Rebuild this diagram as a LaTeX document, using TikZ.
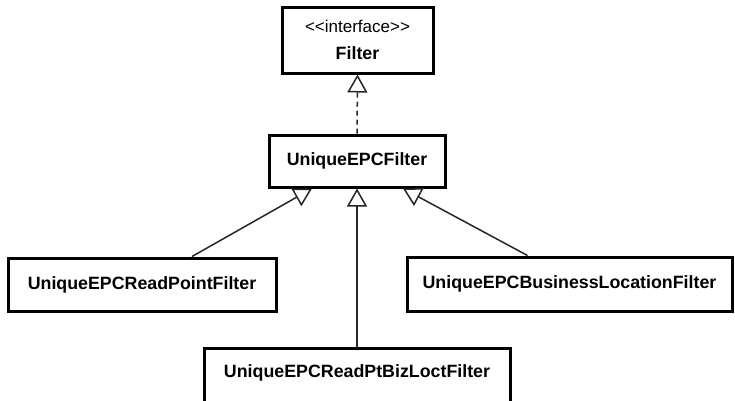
\documentclass[tikz,border=0pt]{standalone}
\usepackage{fontspec}
\setmainfont{Liberation Sans}
\usetikzlibrary{arrows.meta}

\tikzset{
  classbox/.style={draw=black, line width=3pt, fill=white, inner sep=0pt,
    font=\fontsize{17.8}{20}\selectfont\bfseries},
  link/.style={draw=black!85, line width=1.5pt},
  generalize/.style={link, -{Triangle[open, length=18pt, width=20pt]}},
  realize/.style={generalize, dash pattern=on 5pt off 4pt}
}

\begin{document}
\begin{tikzpicture}[x=1pt, y=-1pt]
  \clip (0,0) rectangle (735,400);
  \fill[white] (0,0) rectangle (735,400);

  % interface
  \node[classbox, minimum width=151pt, minimum height=66pt, align=center,
        font=\fontsize{17.8}{27}\selectfont] (filter) at (357.5,40)
    {{\fontsize{17}{27}\selectfont <{}<interface>{}>}\\\textbf{Filter}};

  % base class
  \node[classbox, minimum width=176pt, minimum height=52pt] (uef) at (357,161)
    {UniqueEPCFilter};

  % subclasses
  \node[classbox, minimum width=268pt, minimum height=53pt] (rpf) at (142,284.5)
    {UniqueEPCReadPointFilter};
  \node[classbox, minimum width=325pt, minimum height=54pt] (blf) at (569.5,284)
    {UniqueEPCBusinessLocationFilter};
  \node[classbox, minimum width=306pt, minimum height=58pt, text depth=12.8pt]
    (rbf) at (357,377) {UniqueEPCReadPtBizLoctFilter};

  % realization and generalizations
  \draw[realize] (uef.north) -- (filter.south);
  \draw[generalize] ([xshift=50pt]rpf.north) -- ([xshift=-45pt]uef.south);
  \draw[generalize] ([xshift=-42pt]blf.north) -- ([xshift=46pt]uef.south);
  \draw[generalize] (rbf.north) -- (uef.south);
\end{tikzpicture}
\end{document}
